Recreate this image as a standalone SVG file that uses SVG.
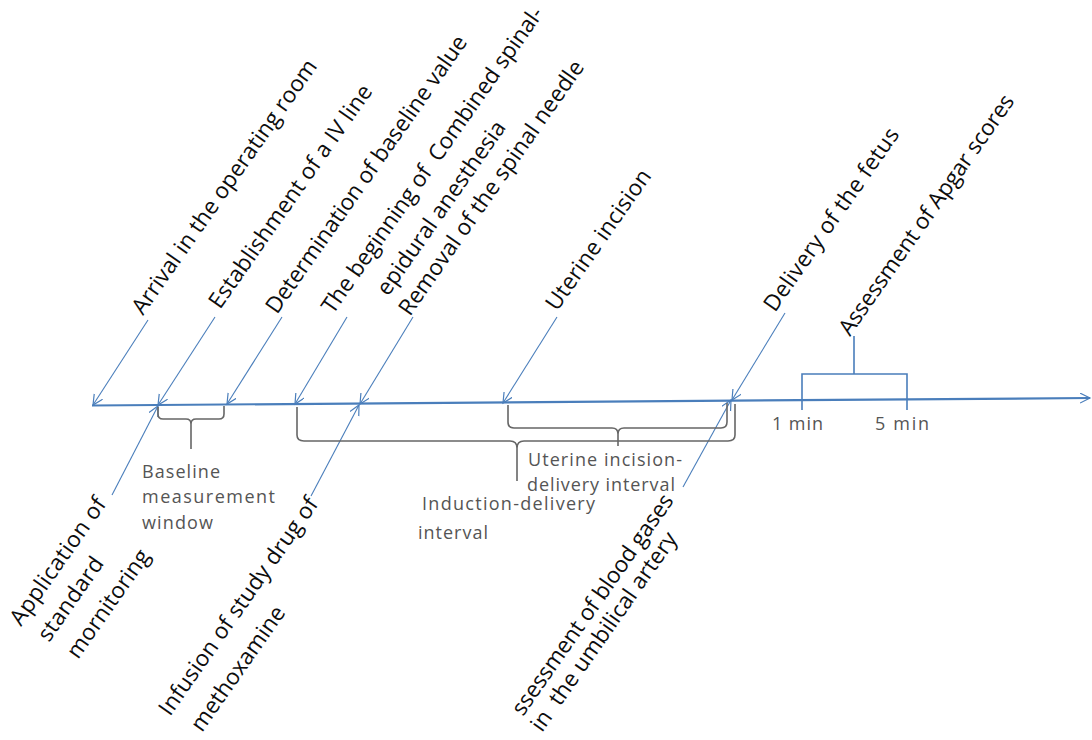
<svg xmlns="http://www.w3.org/2000/svg" width="1092" height="740" viewBox="0 0 1092 740">
<defs>
<marker id="ah" markerUnits="userSpaceOnUse" markerWidth="12" markerHeight="12" refX="10" refY="5" orient="auto">
<path d="M0,0 L10,5 L0,10" fill="none" stroke="#4a7ebb" stroke-width="1.2"/>
</marker>
<style>
.rl{font-family:"Open Sans","Noto Sans",sans-serif;font-size:22.5px;fill:#0d0d0d;white-space:pre}
.hl{font-family:"Open Sans","Noto Sans",sans-serif;font-size:18px;fill:#555;white-space:pre}
.tl{stroke:#4a7ebb;stroke-width:2.2;fill:none}
.ar{stroke:#4a7ebb;stroke-width:1.1;fill:none;marker-end:url(#ah)}
.br{stroke:#666;stroke-width:1.6;fill:none}
.bb{stroke:#4a7ebb;stroke-width:1.6;fill:none}
</style>
</defs>
<rect width="1092" height="740" fill="#fff"/>
<g id="connectors">
<line class="tl" x1="92" y1="405.5" x2="1090" y2="398" marker-end="url(#ah)"/>
<line class="ar" x1="148" y1="320" x2="93" y2="405"/>
<line class="ar" x1="215" y1="317" x2="158" y2="405"/>
<line class="ar" x1="282" y1="317" x2="227" y2="404"/>
<line class="ar" x1="347" y1="317" x2="295" y2="404"/>
<line class="ar" x1="413" y1="317" x2="360" y2="404"/>
<line class="ar" x1="557" y1="317" x2="503" y2="403"/>
<line class="ar" x1="785" y1="313" x2="732" y2="400"/>
<line class="ar" x1="112" y1="495" x2="158" y2="406"/>
<line class="ar" x1="311" y1="496" x2="359" y2="405"/>
<line class="ar" x1="683" y1="487" x2="731" y2="400"/>
<path class="br" d="M158,407 V414 Q158,419 163,419 H186 Q191,419 191,424 V449 M224,406 V414 Q224,419 219,419 H196 Q191,419 191,424"/>
<path class="br" d="M297,407 V435 Q297,441 304,441 H510 Q517,441 517,448 V481 M735,404 V435 Q735,441 728,441 H524 Q517,441 517,448"/>
<path class="br" d="M508,405 V422 Q508,428 514,428 H612 Q618,428 618,434 V446 M727,403 V422 Q727,428 721,428 H624 Q618,428 618,434"/>
<path class="bb" d="M802,410 V374 H907 V410 M854,374 V336"/>
</g>
<g id="arrival"><text class="rl" x="143" y="316" transform="rotate(-55 143 316)" textLength="305">Arrival in the operating room</text></g>
<g id="establishment"><text class="rl" x="220" y="310" transform="rotate(-55 220 310)" textLength="267">Establishment of a IV line</text></g>
<g id="determination"><text class="rl" x="277" y="315" transform="rotate(-55 277 315)" textLength="333">Determination of baseline value</text></g>
<g id="cse">
<text class="rl" x="333" y="315" transform="rotate(-55 333 315)" textLength="368">The beginning of  Combined spinal-</text>
<text class="rl" x="388" y="297" transform="rotate(-55 388 297)" textLength="207">epidural anesthesia</text>
</g>
<g id="removal"><text class="rl" x="410" y="317" transform="rotate(-55 410 317)" textLength="305">Removal of the spinal needle</text></g>
<g id="uterine"><text class="rl" x="557" y="312" transform="rotate(-55 557 312)" textLength="166">Uterine incision</text></g>
<g id="delivery"><text class="rl" x="775" y="313" transform="rotate(-55 775 313)" textLength="218">Delivery of the fetus</text></g>
<g id="apgar"><text class="rl" x="850" y="337" transform="rotate(-55 850 337)" textLength="288">Assessment of Apgar scores</text></g>
<g id="application">
<text class="rl" x="21" y="627" transform="rotate(-55 21 627)" textLength="150">Application of</text>
<text class="rl" x="49" y="643" transform="rotate(-55 49 643)" textLength="97">standard</text>
<text class="rl" x="78" y="660" transform="rotate(-55 78 660)" textLength="127">mornitoring</text>
</g>
<g id="infusion">
<text class="rl" x="170" y="717" transform="rotate(-55 170 717)" textLength="260">Infusion of study drug of</text>
<text class="rl" x="202" y="733" transform="rotate(-55 202 733)" textLength="147">methoxamine</text>
</g>
<g id="bloodgas">
<text class="rl" x="523" y="717" transform="rotate(-55 523 717)" textLength="264">ssessment of blood gases</text>
<text class="rl" x="542" y="733" transform="rotate(-55 542 733)" textLength="237">in  the umbilical artery</text>
</g>
<g id="baseline-window">
<text class="hl" x="142" y="478" textLength="78">Baseline</text>
<text class="hl" x="142" y="503" textLength="133">measurement</text>
<text class="hl" x="142" y="529" textLength="71">window</text>
</g>
<g id="uterine-interval">
<text class="hl" x="528" y="466" textLength="154">Uterine incision-</text>
<text class="hl" x="527" y="491" textLength="148">delivery interval</text>
</g>
<g id="induction-interval">
<text class="hl" x="422" y="510" textLength="173">Induction-delivery</text>
<text class="hl" x="418" y="539" textLength="70">interval</text>
</g>
<g id="apgar-times">
<text class="hl" x="772" y="430" textLength="51">1 min</text>
<text class="hl" x="875" y="430" textLength="54">5 min</text>
</g>
</svg>
